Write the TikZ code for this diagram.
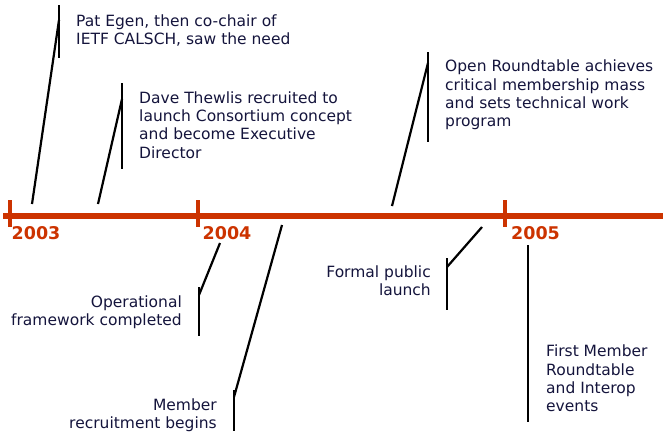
\documentclass[tikz,border=0pt]{standalone}
\usepackage{fontspec}
\setmainfont{DejaVu Sans}
\definecolor{tlred}{HTML}{CC3300}
\definecolor{tltext}{HTML}{14143C}
\begin{document}
\begin{tikzpicture}[x=1pt,y=-1pt,
  evtext/.style={inner sep=0pt,text=tltext,font=\fontsize{15.5}{18.3}\selectfont},
  evleft/.style={evtext,anchor=north west,align=left},
  evright/.style={evtext,anchor=north east,align=right},
  yearlbl/.style={inner sep=0pt,anchor=base west,text=tlred,font=\fontsize{17.5}{20}\selectfont\bfseries},
  axis/.style={draw=tlred,line width=6pt},
  tick/.style={draw=tlred,line width=4pt},
  callout/.style={draw=black,line width=2.2pt},
  bar/.style={draw=black,line width=2.6pt}]
\useasboundingbox (0,0) rectangle (672,442);
% timeline
\coordinate (axL) at (3,216);
\coordinate (axR) at (663,216);
\draw[axis] (axL) -- (axR);
\coordinate (t3a) at (9.5,200); \coordinate (t3b) at (9.5,227);
\coordinate (t4a) at (198,200); \coordinate (t4b) at (198,227);
\coordinate (t5a) at (505,200); \coordinate (t5b) at (505,227);
\draw[tick] (t3a) -- (t3b);
\draw[tick] (t4a) -- (t4b);
\draw[tick] (t5a) -- (t5b);
\node[yearlbl] (y2003) at (11.5,239) {2003};
\node[yearlbl] (y2004) at (202.5,239) {2004};
\node[yearlbl] (y2005) at (511,239) {2005};
% texts
\node[evleft] (pat) at (76,14.2) {Pat Egen, then co-chair of\\IETF CALSCH, saw the need};
\node[evleft] (dave) at (139,91.2) {Dave Thewlis recruited to\\launch Consortium concept\\and become Executive\\Director};
\node[evleft] (open) at (445,59.9) {Open Roundtable achieves\\critical membership mass\\and sets technical work\\program};
\node[evright] (formal) at (431,265.2) {Formal public\\launch};
\node[evright] (oper) at (182,295.2) {Operational\\framework completed};
\node[evright] (member) at (217,398.2) {Member\\recruitment begins};
\node[evleft] (first) at (546,344.9) {First Member\\Roundtable\\and Interop\\events};
% callouts: pat
\coordinate (patT) at (59,5); \coordinate (patB) at (59,58);
\coordinate (patE) at (59,20); \coordinate (patP) at (32,204);
\draw[bar] (patT) -- (patB);
\draw[callout] (patP) -- (patE);
% dave
\coordinate (daveT) at (122,83); \coordinate (daveB) at (122,169);
\coordinate (daveE) at (122,99); \coordinate (daveP) at (98,204);
\draw[bar] (daveT) -- (daveB);
\draw[callout] (daveP) -- (daveE);
% open
\coordinate (openT) at (428,52); \coordinate (openB) at (428,142);
\coordinate (openE) at (428,63); \coordinate (openP) at (392,206);
\draw[bar] (openT) -- (openB);
\draw[callout] (openP) -- (openE);
% formal
\coordinate (formT) at (447,258); \coordinate (formB) at (447,310);
\coordinate (formE) at (447,267); \coordinate (formP) at (482,227);
\draw[bar] (formT) -- (formB);
\draw[callout] (formP) -- (formE);
% operational
\coordinate (operT) at (199,287); \coordinate (operB) at (199,336);
\coordinate (operE) at (199,295); \coordinate (operP) at (220,243);
\draw[bar] (operT) -- (operB);
\draw[callout] (operP) -- (operE);
% member
\coordinate (memT) at (234,390); \coordinate (memB) at (234,431);
\coordinate (memE) at (234,397); \coordinate (memP) at (282,225);
\draw[bar] (memT) -- (memB);
\draw[callout] (memP) -- (memE);
% first
\coordinate (firstT) at (528,245); \coordinate (firstB) at (528,422);
\draw[bar] (firstT) -- (firstB);
\end{tikzpicture}
\end{document}
